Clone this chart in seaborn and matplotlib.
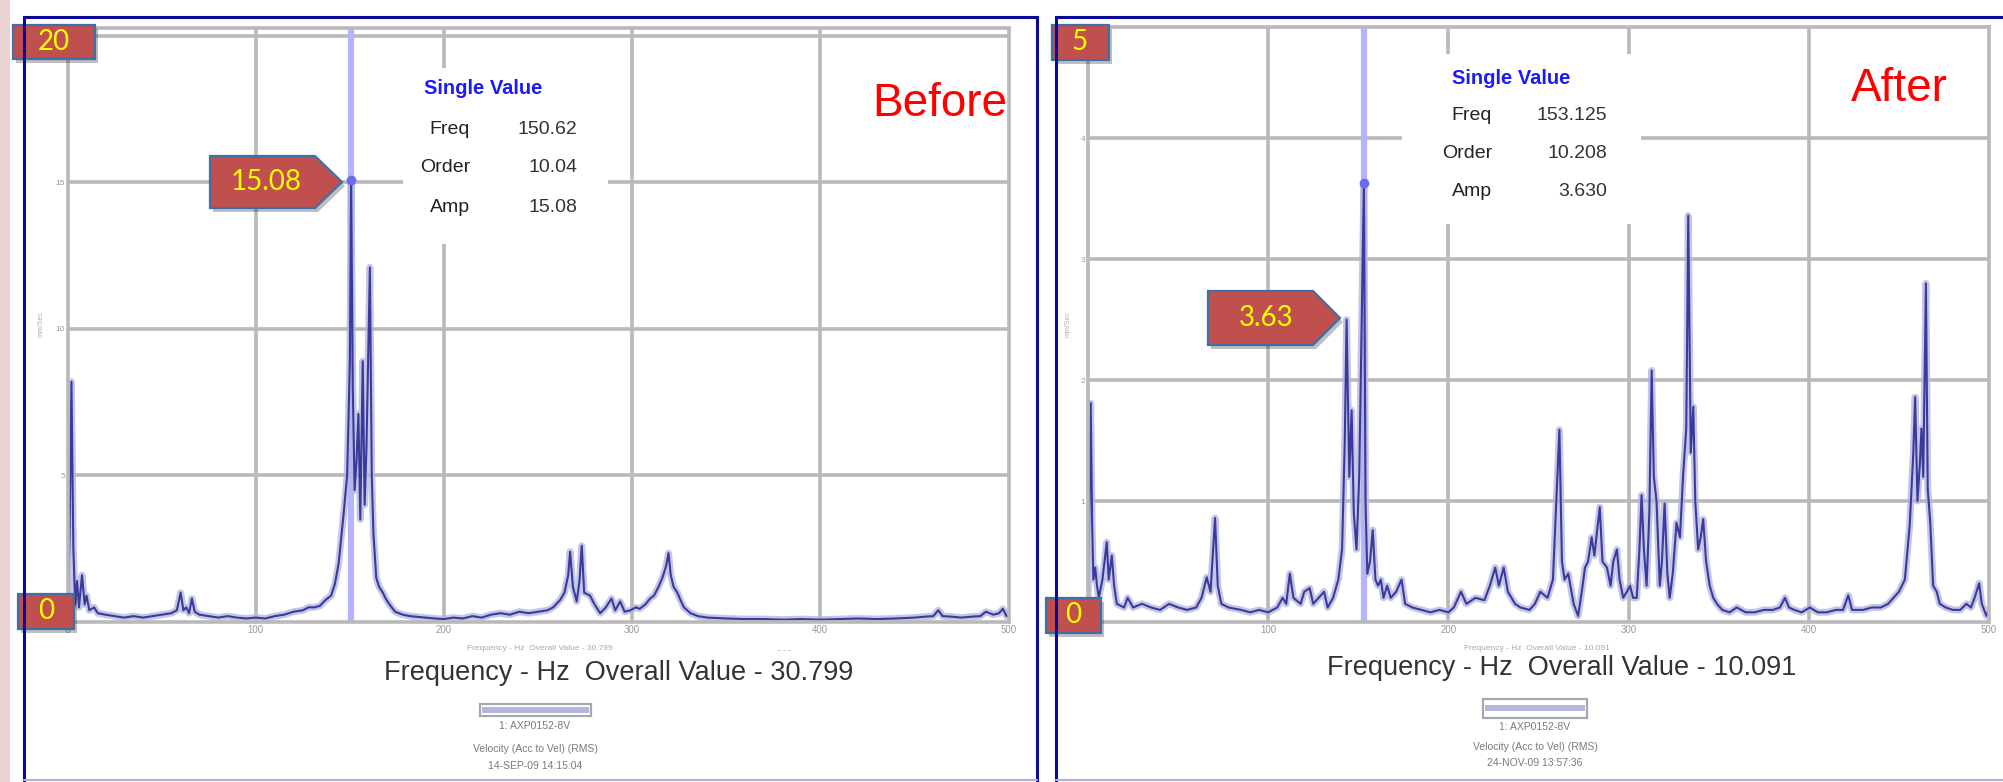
import matplotlib.pyplot as plt
import matplotlib.patches as mpatches
import seaborn as sns

sns.set_theme(style="white")
plt.rcParams['font.family'] = ['Liberation Sans', 'DejaVu Sans']

W, H = 2003, 782

# --- spectrum (Hz, mm/sec) ---
before_freq = [0, 1, 2, 3, 4, 5, 6, 7.6, 9, 10, 11.5, 14, 16, 20, 25, 30, 35, 40, 45, 50,
               55, 58, 60, 61.5, 63, 64.5, 66, 67.5, 70, 75, 80, 85, 90, 95, 100, 105, 110,
               115, 120, 125, 128, 131, 134, 137, 140, 142, 144, 146.5, 148.5, 150, 150.62,
               151.5, 152.5, 153.5, 154.5, 155.5, 156.8, 157.8, 158.8, 160.6, 161.6, 162.5,
               164, 165.5, 167.5, 169, 171, 174, 178, 182, 190, 195, 200, 205, 210, 215, 220,
               225, 230, 235, 240, 245, 250, 255, 258, 261.7, 264, 266, 267, 268.5, 270.5,
               272, 273.2, 274.5, 277.6, 280, 283, 286, 289, 291, 293.6, 296, 299, 302, 304,
               307, 309.5, 311.6, 314, 316, 318, 319.3, 320.5, 322, 324, 326, 327.5, 331, 335,
               340, 350, 360, 370, 380, 390, 400, 410, 420, 430, 440, 450, 455, 460, 462.7,
               465, 470, 475, 480, 485, 488, 490, 492, 495, 497, 499, 500]
before_amp = [0.2, 3.0, 8.2, 2.5, 0.6, 1.4, 0.5, 1.6, 0.6, 0.9, 0.4, 0.5, 0.3, 0.25, 0.2, 0.15,
              0.2, 0.15, 0.2, 0.25, 0.3, 0.4, 1.0, 0.4, 0.5, 0.3, 0.8, 0.35, 0.25, 0.2, 0.15,
              0.2, 0.15, 0.12, 0.15, 0.12, 0.2, 0.25, 0.35, 0.4, 0.5, 0.5, 0.55, 0.75, 0.9,
              1.3, 2.0, 3.6, 5.0, 9.0, 15.08, 8.0, 4.5, 5.5, 7.1, 3.5, 8.9, 4.0, 6.0, 12.1,
              5.0, 3.0, 1.5, 1.2, 1.0, 0.8, 0.6, 0.35, 0.25, 0.2, 0.15, 0.12, 0.1, 0.15, 0.12,
              0.2, 0.15, 0.25, 0.3, 0.25, 0.35, 0.3, 0.35, 0.4, 0.5, 0.75, 1.0, 1.6, 2.4, 1.2,
              0.7, 1.4, 2.6, 1.0, 0.9, 0.6, 0.3, 0.5, 0.8, 0.4, 0.7, 0.35, 0.4, 0.5, 0.45, 0.6,
              0.8, 0.9, 1.2, 1.5, 1.9, 2.35, 1.6, 1.2, 1.0, 0.7, 0.5, 0.3, 0.2, 0.15, 0.12,
              0.1, 0.1, 0.08, 0.1, 0.08, 0.1, 0.12, 0.1, 0.12, 0.15, 0.18, 0.2, 0.4, 0.2,
              0.18, 0.15, 0.18, 0.2, 0.35, 0.3, 0.25, 0.3, 0.45, 0.2, 0.2]

after_freq = [0, 0.8, 1.5, 2.3, 3, 4, 5, 6, 8, 10.4, 11.5, 13.2, 14.5, 16, 20, 22, 25, 30, 35,
              40, 45, 50, 55, 60, 63, 65.9, 68, 70.5, 72, 74, 78, 85, 90, 95, 100, 105, 108,
              110, 112, 114, 118, 120, 123, 125, 128, 131, 133, 136, 138.9, 141, 142.5, 143.5,
              145, 146.3, 147.5, 149, 150.5, 153.125, 154, 155, 156.5, 158, 159.5, 161, 162.5,
              164, 166, 168, 171, 174, 176, 180, 185, 190, 195, 200, 203, 207, 210, 215, 220,
              223, 226, 228, 230.7, 233, 237, 240, 245, 248, 251, 255, 258, 261.6, 263, 264.5,
              266.5, 269.5, 272, 274, 275.8, 277.5, 279.5, 281, 282.5, 284, 285.5, 288, 290,
              291.5, 293.5, 295, 297, 299, 300.8, 302.5, 304.5, 306, 307.2, 308.5, 310, 311.5,
              312.8, 314, 315.5, 317.3, 318.5, 320, 321.5, 322.8, 324.5, 326.6, 328.5, 330.3,
              332, 333.1, 334.5, 335.9, 337, 338.6, 340, 341.4, 343, 345, 347, 349, 352, 356,
              360, 365, 370, 375, 380, 384, 386.8, 389, 392, 396, 400.6, 405, 410, 415, 419,
              421.9, 424, 430, 435, 440, 444, 447, 450, 453.3, 456, 458, 459, 460.3, 461.6,
              462.5, 463.5, 465, 466, 467.4, 469, 471, 472.7, 476, 480, 484, 487.5, 490, 492,
              494.5, 496, 498.6, 500]
after_amp = [0.1, 1.0, 1.81, 0.8, 0.35, 0.45, 0.3, 0.2, 0.35, 0.66, 0.35, 0.55, 0.3, 0.15, 0.12,
             0.2, 0.12, 0.15, 0.12, 0.1, 0.15, 0.12, 0.1, 0.12, 0.2, 0.37, 0.25, 0.86, 0.3,
             0.15, 0.12, 0.1, 0.08, 0.1, 0.08, 0.12, 0.2, 0.15, 0.4, 0.2, 0.15, 0.25, 0.28,
             0.15, 0.2, 0.25, 0.12, 0.2, 0.35, 0.6, 1.5, 2.5, 1.2, 1.75, 0.9, 0.6, 1.2, 3.63,
             1.0, 0.4, 0.5, 0.76, 0.35, 0.3, 0.35, 0.2, 0.3, 0.2, 0.25, 0.35, 0.15, 0.12, 0.1,
             0.08, 0.1, 0.08, 0.12, 0.25, 0.15, 0.2, 0.18, 0.3, 0.45, 0.3, 0.45, 0.25, 0.15,
             0.12, 0.1, 0.15, 0.25, 0.2, 0.35, 1.59, 0.5, 0.35, 0.4, 0.15, 0.05, 0.25, 0.45,
             0.5, 0.7, 0.55, 0.75, 0.95, 0.5, 0.45, 0.3, 0.5, 0.6, 0.35, 0.2, 0.25, 0.3, 0.2,
             0.2, 0.6, 1.05, 0.6, 0.3, 0.9, 2.08, 1.2, 1.0, 0.3, 0.5, 0.98, 0.4, 0.2, 0.4,
             0.82, 0.7, 1.23, 1.6, 3.36, 1.4, 1.78, 1.0, 0.6, 0.7, 0.85, 0.5, 0.3, 0.2, 0.15,
             0.1, 0.08, 0.12, 0.08, 0.08, 0.1, 0.1, 0.12, 0.2, 0.12, 0.1, 0.08, 0.12, 0.08,
             0.08, 0.1, 0.1, 0.22, 0.1, 0.1, 0.12, 0.12, 0.15, 0.2, 0.25, 0.35, 0.8, 1.4,
             1.86, 1.0, 1.3, 1.6, 1.2, 2.8, 1.1, 0.82, 0.3, 0.25, 0.15, 0.12, 0.1, 0.1, 0.15,
             0.12, 0.2, 0.32, 0.15, 0.05, 0.1]

x_ticks = [0, 100, 200, 300, 400, 500]
before_yticks = [0, 5, 10, 15, 20]
after_yticks = [0, 1, 2, 3, 4, 5]

# cursor readouts
before_cursor = (150.62, 10.04, 15.08)
after_cursor = (153.125, 10.208, 3.630)
before_overall = 30.799
after_overall = 10.091
before_date = "14-SEP-09 14:15:04"
after_date = "24-NOV-09 13:57:36"

GRID = '#b9b9b9'
LINE = '#3a3a9c'
HALO = '#b2b4de'
BOX_RED = '#c0504d'
BOX_EDGE = '#3f6fa8'

fig = plt.figure(figsize=(W / 100, H / 100), dpi=100)
fig.patch.set_facecolor('white')


def px_axes(l, t, r, b, z=1):
    return fig.add_axes([l / W, 1 - b / H, (r - l) / W, (b - t) / H], zorder=z)


def spectrum(ax, freq, amp, yticks, ytop, cursor, info_box):
    ax.set_facecolor('white')
    for x in x_ticks[1:-1]:
        ax.axvline(x, color=GRID, lw=2.6, zorder=1)
    for y in yticks[1:]:
        if y < ytop:
            ax.axhline(y, color=GRID, lw=2.6, zorder=1)
    # white readout area hides the grid
    bx0, by0, bx1, by1 = info_box
    ax.add_patch(mpatches.Rectangle((bx0, by0), bx1 - bx0, by1 - by0, color='white',
                                    zorder=2, lw=0))
    ax.axvline(cursor[0], color='#b4b4ff', lw=4.5, zorder=3)
    sns.lineplot(x=freq, y=amp, ax=ax, color=HALO, lw=5, alpha=0.75, zorder=4,
                 estimator=None, sort=False)
    sns.lineplot(x=freq, y=amp, ax=ax, color=LINE, lw=1.5, zorder=5,
                 estimator=None, sort=False)
    ax.plot([cursor[0]], [cursor[2]], 'o', color='#6a6af0', ms=6, zorder=6)
    ax.set_xlim(0, 500)
    ax.set_ylim(0, ytop)
    ax.set_xticks(x_ticks)
    ax.set_xticklabels([str(v) for v in x_ticks], fontsize=7, color='#9a9a9a')
    # top value is covered by the red scale box, so no label there
    ax.set_yticks(yticks[1:-1])
    ax.set_yticklabels([str(v) for v in yticks[1:-1]], fontsize=6, color='#9a9a9a')
    ax.tick_params(length=0, pad=2)
    ax.set_xlabel('')
    ax.set_ylabel('')
    for s in ax.spines.values():
        s.set_color(GRID)
        s.set_linewidth(2.6)
        s.set_zorder(7)
        s.set_visible(True)


ax1 = px_axes(67.7, 28, 1008.5, 622)
spectrum(ax1, before_freq, before_amp, before_yticks, 20.27, before_cursor,
         (178, 12.9, 287, 18.9))
ax2 = px_axes(1088, 27, 1989, 622)
spectrum(ax2, after_freq, after_amp, after_yticks, 4.92, after_cursor,
         (174, 3.29, 307, 4.7))

# overlay in screen pixels for frames, labels and callouts
ov = fig.add_axes([0, 0, 1, 1], zorder=10)
ov.set_xlim(0, W)
ov.set_ylim(H, 0)
ov.set_facecolor('none')
ov.axis('off')

ov.add_patch(mpatches.Rectangle((0, 0), 10, H, color='#e9d3d3', lw=0))
for x0, x1 in [(24, 1037), (1056, 2010)]:
    ov.plot([x0, x0, x1, x1], [H + 5, 17, 17, H + 5], color='#0a0a9a', lw=2.2,
            solid_joinstyle='miter')
ov.plot([24, 1037], [780, 780], color='#b0b0e0', lw=1.5)
ov.plot([1056, 2003], [780, 780], color='#b0b0e0', lw=1.5)

# readout text blocks
for (cx, lab_r, val_r, ys), cur, amp_fmt in [
        ((483, 470, 577, (89, 129, 168, 207)), before_cursor, "{:.2f}"),
        ((1511, 1492, 1607, (78, 115, 153, 192)), after_cursor, "{:.3f}")]:
    ov.text(cx, ys[0], 'Single Value', color='#1a1aff', fontsize=14.5,
            fontweight='bold', ha='center', va='center')
    vals = [f"{cur[0]:g}", f"{cur[1]:g}", amp_fmt.format(cur[2])]
    for lab, val, y in zip(['Freq', 'Order', 'Amp'], vals, ys[1:]):
        ov.text(lab_r, y, lab, color='#222222', fontsize=14, ha='right', va='center')
        ov.text(val_r, y, val, color='#333333', fontsize=14, ha='right', va='center')

ov.text(872, 104, 'Before', color='#ff0000', fontsize=33, ha='left', va='center')
ov.text(1851, 89, 'After', color='#ff0000', fontsize=33, ha='left', va='center')

# axis captions under each spectrum
for cx, cy, small_cx, overall in [(619, 673, 540, before_overall),
                                  (1562, 668, 1537, after_overall)]:
    label = f"Frequency - Hz  Overall Value - {overall}"
    ov.text(small_cx, 648, label, color='#a8a8a8', fontsize=6, ha='center', va='center')
    ov.text(cx, cy, label, color='#333333', fontsize=19.5, ha='center', va='center')
ov.text(785, 651, '- - -', color='#909090', fontsize=6, ha='center', va='center')
ov.text(41, 324, 'mm/Sec', color='#b0b0b0', fontsize=5, rotation=90, ha='center',
        va='center')
ov.text(1068, 324, 'mm/Sec', color='#b0b0b0', fontsize=5, rotation=90, ha='center',
        va='center')

# legend boxes
for (l, t, r, b), cx, ys, date in [((480, 704, 591, 716), 535, (726, 749, 766), before_date),
                                   ((1483, 699, 1587, 718), 1535, (727, 747, 763), after_date)]:
    ov.add_patch(mpatches.Rectangle((l, t), r - l, b - t, facecolor='white',
                                    edgecolor='#a8a8a8', lw=1.6))
    ov.add_patch(mpatches.Rectangle((l + 2, (t + b) / 2 - 3.5), r - l - 4, 6,
                                    color='#b4b6de', lw=0))
    ov.text(cx, ys[0], '1: AXP0152-8V', color='#7a7a7a', fontsize=7.5, ha='center',
            va='center')
    ov.text(cx, ys[1], 'Velocity (Acc to Vel) (RMS)', color='#7a7a7a', fontsize=7.5,
            ha='center', va='center')
    ov.text(cx, ys[2], date, color='#7a7a7a', fontsize=7.5, ha='center', va='center')


def red_box(pts, label, tx, ty, size=20):
    shadow = [(x + 3, y + 4) for x, y in pts]
    ov.add_patch(mpatches.Polygon(shadow, closed=True, color='#000000', alpha=0.25, lw=0))
    ov.add_patch(mpatches.Polygon(pts, closed=True, facecolor=BOX_RED, edgecolor=BOX_EDGE,
                                  lw=1.6))
    ov.text(tx, ty, label, color='#ffff00', fontsize=size, ha='center', va='center',
            family=['Lato', 'DejaVu Sans'])


def rect(l, t, r, b):
    return [(l, t), (r, t), (r, b), (l, b)]


red_box(rect(13, 25, 95, 59), str(before_yticks[-1]), 54, 42)
red_box(rect(18, 594, 74, 629), str(before_yticks[0]), 46, 611)
red_box(rect(1052, 25, 1109, 60), str(after_yticks[-1]), 1080, 42)
red_box(rect(1046, 598, 1101, 633), str(after_yticks[0]), 1073, 615)
red_box([(210, 156), (315, 156), (342, 182), (315, 208), (210, 208)],
        f"{before_cursor[2]:.2f}", 266, 182)
red_box([(1208, 291), (1313, 291), (1340, 318), (1313, 345), (1208, 345)],
        f"{after_cursor[2]:.2f}", 1266, 318)

fig.savefig('out.png', dpi=100, facecolor='white')
